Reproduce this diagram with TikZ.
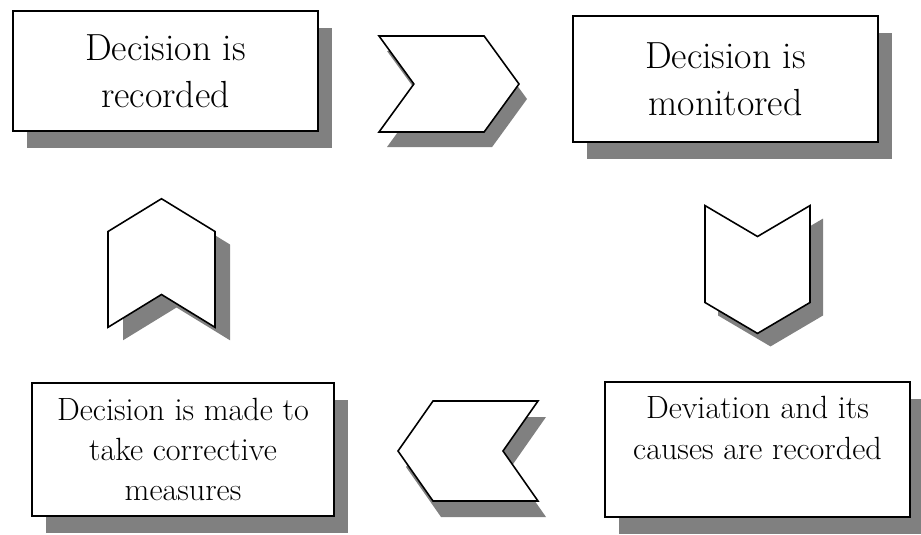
\documentclass[tikz,border=0pt]{standalone}
\usetikzlibrary{shapes.symbols,shadows}
\begin{document}
\begin{tikzpicture}[
        stepbox/.style={draw, line width=1.1pt, fill=white, align=center, inner sep=0pt,
            drop shadow={shadow xshift=0.28cm, shadow yshift=-0.34cm, fill=black!50, opacity=1}},
        chevron/.style 2 args={shape=signal, draw, line width=0.9pt, fill=white, inner sep=0pt,
            drop shadow={shadow xshift=#1, shadow yshift=#2, fill=black!50, opacity=1}},
        bigtext/.style={font=\fontsize{21.5}{26.8}\selectfont},
        smalltext/.style={font=\fontsize{18.3}{23}\selectfont}]
        % Page frame (921 x 534 px, 0.02 cm per px)
        \useasboundingbox (0,0) rectangle (18.42,-10.68);

        % Top row: decision recorded, then monitored
        \node[stepbox, bigtext, minimum width=6.1cm, minimum height=2.4cm] (recorded) at (3.31,-1.42) {Decision is\\recorded};
        \node[stepbox, bigtext, minimum width=6.1cm, minimum height=2.52cm] (monitored) at (14.51,-1.58) {Decision is\\monitored};

        % Chevron pointing right, between the top boxes
        \node[chevron={0.16cm}{-0.3cm}, signal to=east, signal from=west, signal pointer angle=108,
            minimum width=2.8cm, minimum height=1.92cm] (toright) at (8.98,-1.68) {};

        % Chevron pointing down, under the monitored box
        \node[chevron={0.26cm}{-0.26cm}, signal to=south, signal from=north, signal pointer angle=119,
            minimum width=2.1cm, minimum height=1.32cm] (todown) at (15.15,-5.39) {};

        % Bottom row: deviation recorded, then corrective measures
        \node[stepbox, smalltext, minimum width=6.1cm, minimum height=2.7cm, text depth=0.86cm] (deviation) at (15.15,-8.99) {Deviation and its\\causes are recorded};
        \node[stepbox, smalltext, minimum width=6.04cm, minimum height=2.66cm] (corrective) at (3.66,-8.99) {Decision is made to\\take corrective\\measures};

        % Chevron pointing left, between the bottom boxes
        \node[chevron={0.16cm}{-0.32cm}, signal to=west, signal from=east, signal pointer angle=110,
            minimum width=2.8cm, minimum height=2cm] (toleft) at (9.36,-9.02) {};

        % Chevron pointing up, back to the first box
        \node[chevron={0.3cm}{-0.26cm}, signal to=north, signal from=south, signal pointer angle=117,
            minimum width=2.14cm, minimum height=1.26cm] (toup) at (3.23,-5.26) {};
    \end{tikzpicture}
\end{document}
